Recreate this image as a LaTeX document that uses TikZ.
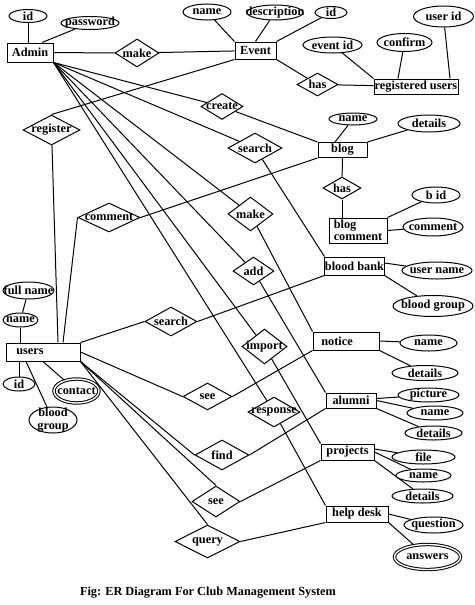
\documentclass[tikz,border=0pt]{standalone}
\usepackage{fontspec}
\setmainfont{Liberation Serif}
\usetikzlibrary{shapes.geometric}
\begin{document}
\begin{tikzpicture}[x=1pt,y=-1pt,
  font=\fontsize{12.3}{12.5}\selectfont\bfseries,
  line width=1pt,
  sz/.style 2 args={minimum width=#1pt, minimum height=#2pt},
  ent/.style={draw, rectangle, inner sep=0pt},
  attr/.style={draw, ellipse, inner sep=0pt},
  mv/.style={attr, double, double distance=1.4pt},
  rel/.style={draw, diamond, inner sep=0pt}]
\useasboundingbox (0,0) rectangle (474,605);
% Admin & Event
\node[ent, sz={46}{19}] (admin) at (30,52.5) {Admin};
\node[attr, sz={38}{13}, label=center:id] (aid) at (28,16) {};
\node[attr, sz={58}{13}, label=center:password] (apw) at (90,23) {};
\node[rel, sz={44}{28}, label=center:make] (mk1) at (137,53) {};
\node[ent, sz={41}{17}] (event) at (255.5,50.5) {Event};
\node[attr, sz={48}{16}, label=center:name] (ename) at (207,12) {};
\node[attr, sz={56}{15}, label=center:description] (edesc) at (275,12.5) {};
\node[attr, sz={32}{12}, label=center:id] (eid) at (331,12.5) {};
\node[rel, sz={41}{23}, label=center:has] (has1) at (317.5,84.5) {};
\node[ent, sz={84}{15}] (ru) at (416,86.5) {registered users};
\node[attr, sz={59}{16}, label=center:event id] (evid) at (332.5,45) {};
\node[attr, sz={55}{18}, label=center:confirm] (conf) at (404.5,42.5) {};
\node[attr, sz={60}{21}, label=center:user id] (uid2) at (443.5,16.5) {};
% blog
\node[rel, sz={42}{26}, label=center:create] (cr) at (222,106.5) {};
\node[rel, sz={54}{30}, label=center:search] (sr1) at (255,148) {};
\node[ent, sz={49}{15}] (blog) at (342.5,150) {blog};
\node[attr, sz={48}{12}, label=center:name] (bname) at (353,119) {};
\node[attr, sz={62}{17}, label=center:details] (bdet) at (429,123.5) {};
\node[rel, sz={38}{22}, label=center:has] (bhas) at (342,188) {};
\node[ent, sz={58}{25}, align=left] (bc) at (358,230.5) {blog\\comment};
\node[attr, sz={48}{16}, label=center:b id] (bid) at (436,195) {};
\node[attr, sz={60}{18}, label=center:comment] (cm2) at (433,227) {};
% left relations
\node[rel, sz={57}{30}, label=center:register] (reg) at (51.5,130) {};
\node[rel, sz={62}{29}, label=center:comment] (cm) at (109,217.5) {};
\node[rel, sz={45}{34}, label=center:make] (mk2) at (250.5,214) {};
\node[rel, sz={41}{28}, label=center:add] (ad) at (253.5,271) {};
% blood bank
\node[ent, sz={59}{18}] (bb) at (354.5,266) {blood bank};
\node[attr, sz={70}{17}, label=center:user name] (un) at (437,270.5) {};
\node[attr, sz={80}{21}, label=center:blood group] (bg1) at (433,306) {};
% users
\node[rel, sz={52}{29}, label=center:search] (sr2) at (171,321.5) {};
\node[attr, sz={51}{17}, label=center:full name] (fn) at (28.5,290.5) {};
\node[attr, sz={35}{14}, label=center:name] (nm) at (20.5,320) {};
\node[ent, sz={74}{18}, label={[xshift=-13pt]center:users}] (users) at (43,352) {};
\node[attr, sz={32}{14}, label=center:id] (uid) at (19,384) {};
\node[attr, sz={48}{26}, label={[align=center]center:blood\\group}] (bg2) at (53,420) {};
\node[mv, sz={45}{24}, label=center:contact] (ct) at (76.5,391) {};
% middle
\node[rel, sz={49}{27}, label=center:see] (see1) at (207.5,396.5) {};
\node[rel, sz={45}{35}, label=center:import] (imp) at (264.5,346.5) {};
\node[rel, sz={52}{30}, label=center:response] (resp) at (274,412) {};
\node[rel, sz={54}{30}, label=center:find] (find) at (222,455) {};
\node[rel, sz={48}{31}, label=center:see] (see2) at (216,501.5) {};
\node[rel, sz={65}{33}, label=center:query] (qu) at (207.5,541.5) {};
% right entities
\node[ent, sz={66}{18}, label={[xshift=-9pt]center:notice}] (notice) at (346,341) {};
\node[attr, sz={57}{16}, label=center:name] (nn) at (428.5,343) {};
\node[attr, sz={66}{15}, label=center:details] (nd) at (425,373) {};
\node[ent, sz={50}{15}] (al) at (351,400.5) {alumni};
\node[attr, sz={61}{14}, label=center:picture] (pic) at (428.5,395) {};
\node[attr, sz={56}{14}, label=center:name] (an) at (435,413) {};
\node[attr, sz={57}{14}, label=center:details] (ad2) at (433.5,433) {};
\node[ent, sz={53}{16}] (proj) at (347.5,452) {projects};
\node[attr, sz={63}{14}, label=center:file] (file) at (423.5,457) {};
\node[attr, sz={55}{13}, label=center:name] (pn) at (423.5,475.5) {};
\node[attr, sz={61}{14}, label=center:details] (pd) at (422.5,496) {};
\node[ent, sz={62}{16}] (help) at (357,514) {help desk};
\node[attr, sz={59}{16}, label=center:question] (q) at (433.5,525) {};
\node[mv, sz={66}{25}, label=center:answers] (ans) at (427.5,557) {};
\node (cap) at (208,593) {Fig: ER Diagram For Club Management System};
% connectors: admin / event
\draw (aid) -- (aid |- admin.north);
\draw (apw) -- ([xshift=12pt]admin.north);
\draw (admin) -- (mk1);
\draw (mk1) -- (event);
\draw (ename) -- (event.north west);
\draw (edesc) -- (event.north);
\draw (eid) -- (event.north east);
\draw (event.south east) -- (has1);
\draw (has1) -- (ru);
\draw (evid) -- (ru.north west);
\draw (conf) -- ([xshift=-18pt]ru.north);
\draw (uid2) -- ([xshift=34pt]ru.north);
\foreach \t in {cr,sr1,mk2,ad,imp,resp} \draw (admin.south east) -- (\t);
\draw (cr) -- (blog.north west);
\draw (sr1) -- (bb.north west);
\draw (mk2) -- (notice.north west);
\draw (ad) -- (al.north west);
\draw (imp) -- (proj.north west);
\draw (resp) -- (help.north west);
% users
\draw (reg.north) -- (event.south west);
\draw (reg) -- ([xshift=15pt]users.north);
\draw (cm.west) -- ([xshift=20pt]users.north);
\draw (cm.east) -- (blog.south west);
\draw (users.north east) -- (sr2.west);
\draw (sr2.east) -- (bb.south west);
\draw (users.east) -- (see1.west);
\draw (see1.east) -- (notice.south west);
\draw (users.south east) -- (find.west);
\draw (find.east) -- (al.south west);
\draw (users.south east) -- (see2.north);
\draw (see2.east) -- (proj.south west);
\draw (users.south east) -- (qu.north);
\draw (qu.east) -- (help.south west);
\draw (fn) -- (nm);
\draw (nm) -- (nm |- users.north);
\draw (uid) -- (uid |- users.south);
\draw (bg2) -- ([xshift=-17pt]users.south);
\draw (ct) -- (users.south);
% blog attrs
\draw (bname) -- ([xshift=-7.5pt]blog.north);
\draw (bdet) -- (blog.north east);
\draw (blog) -- (bhas);
\draw (bhas) -- (bhas |- bc.north);
\draw (bc.north east) -- (bid);
\draw (bc.east) -- (cm2);
% other attrs
\draw ([yshift=3pt]bb.east) -- (un);
\draw (bb.south east) -- (bg1);
\draw (notice.east) -- (nn);
\draw (notice.south east) -- (nd);
\draw ([yshift=2pt]al.east) -- (pic);
\draw (al.east) -- (an);
\draw (al.south east) -- (ad2);
\draw ([yshift=3pt]proj.east) -- (file);
\draw (proj.east) -- (pn);
\draw (proj.south east) -- (pd);
\draw (help.east) -- (q);
\draw (help.south east) -- (ans);
\end{tikzpicture}
\end{document}
